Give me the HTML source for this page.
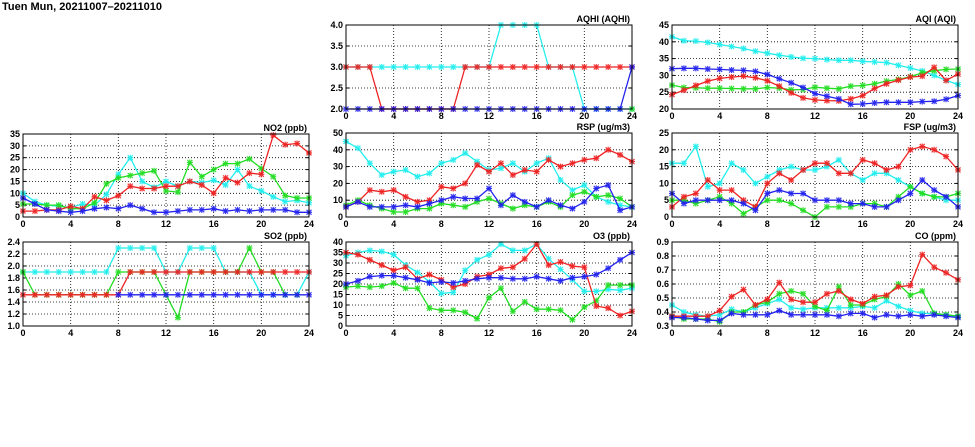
<!DOCTYPE html>
<html><head><meta charset="utf-8"><style>
body{margin:0;background:#fff;width:975px;height:447px;overflow:hidden}
svg{display:block}
text{font-family:"Liberation Sans",sans-serif;font-size:9px;font-weight:bold;fill:#000}
</style></head><body>
<svg id="s" width="975" height="447" xmlns="http://www.w3.org/2000/svg">
<text x="2" y="10" style="font-size:11px">Tuen Mun, 20211007–20211010</text>
</svg>
<script>
const S=document.getElementById('s');
let h='';
const C={c:'#22eeee',g:'#22dd22',r:'#ee2222',b:'#2222ee'};
function panel(x0,y0,x1,y1,ymin,ymax,step,dec,title,series){
  const sx=t=>x0+(x1-x0)*t/24, sy=v=>y1-(y1-y0)*(v-ymin)/(ymax-ymin);
  for(let v=ymin;v<=ymax+1e-9;v+=step){const y=sy(v).toFixed(1);
    if(v>ymin+1e-9&&v<ymax-1e-9)h+=`<line x1="${x0}" y1="${y}" x2="${x1}" y2="${y}" stroke="#000" stroke-width="0.8" stroke-dasharray="1,2"/>`;
    h+=`<line x1="${x0}" y1="${y}" x2="${x0+3}" y2="${y}" stroke="#000"/><line x1="${x1-3}" y1="${y}" x2="${x1}" y2="${y}" stroke="#000"/>`;
    h+=`<text x="${x0-3}" y="${+y+3}" text-anchor="end">${v.toFixed(dec)}</text>`;}
  for(let t=0;t<=24;t+=4){const x=sx(t).toFixed(1);
    if(t>0&&t<24)h+=`<line x1="${x}" y1="${y0}" x2="${x}" y2="${y1}" stroke="#000" stroke-width="0.8" stroke-dasharray="1,2"/>`;
    h+=`<text x="${x}" y="${y1+10}" text-anchor="middle">${t}</text>`;}
  h+=`<text x="${x1-2}" y="${y0-3}" text-anchor="end">${title}</text>`;
  for(const [k,d] of series){let p=[];
    d.forEach((v,i)=>{if(v!=null)p.push(sx(i).toFixed(1)+','+sy(v).toFixed(1));});
    h+=`<polyline points="${p.join(' ')}" fill="none" stroke="${C[k]}" stroke-width="1.3"/>`;
    d.forEach((v,i)=>{if(v==null)return;const x=sx(i),y=sy(v);
      h+=`<path d="M${x-2.5},${y-2.5}L${x+2.5},${y+2.5}M${x-2.5},${y+2.5}L${x+2.5},${y-2.5}M${x-3},${y}H${x+3}M${x},${y-3}V${y+3}" stroke="${C[k]}" stroke-width="1.2" opacity="0.9"/>`;});}
  h+=`<rect x="${x0}" y="${y0}" width="${x1-x0}" height="${y1-y0}" fill="none" stroke="#000" stroke-width="1"/>`;
}
const r=(v,n)=>Array(n).fill(v);
panel(346,25,632,109,2,4,0.5,1,'AQHI (AQHI)',[
['c',[...r(3,13),4,4,4,4,3,3,3,2,2,2,2,2]],
['g',[...r(null,24),2]],
['r',[3,3,3,...r(2,7),...r(3,15)]],
['b',[...r(2,24),3]]]);
panel(672,25,958,109,20,45,5,0,'AQI (AQI)',[
['c',[41.5,40.3,40.2,39.8,39.2,38.6,38,37.2,36.6,36,35.5,35.1,35,34.7,34.5,34.5,34.2,34,33.8,33,32.2,31.3,30,28.5,27.3]],
['g',[27.1,26.4,26.3,26.2,26.2,26.1,26,26,26.4,26.2,25.7,25.8,26.5,26.2,26,26.8,27,27.5,28.3,28.8,29.6,30.8,31.4,31.8,31.9]],
['r',[24.3,25.6,27,28.3,29.1,29.5,29.8,29.3,28.4,26.8,24.8,23.3,22.7,22.5,22.4,23,24,26.1,27.5,28.6,29.5,29.8,32.4,28.5,30.4]],
['b',[32,32.1,32.1,31.9,31.8,31.6,31.5,31.2,30.3,29,27.8,26.4,24.6,23.8,23,21.4,21.5,21.8,22,22,22,22.2,22.3,22.9,24]]]);
panel(23,134,309,217,0,35,5,0,'NO2 (ppb)',[
['c',[10,6.5,5,4.5,4,5.5,5,9.5,18,25,15,12.5,15,13,15,14.5,15.5,13.5,20,13,11,8.5,6.5,7,6]],
['g',[5.5,5.5,5,5,3.5,3.5,6,14,16.5,17.5,18.5,19.5,11,10.5,23,17,20,22.5,22.5,24.5,20.5,17,9,8,8]],
['r',[2.5,2.5,3,3,4.5,3.5,8.5,7,9,13,12,12,13,13,15,13.5,10,16.5,14.5,18.5,18,34.5,30.5,31,27]],
['b',[8,5.5,3,2.5,2,2.5,3.5,4,3.5,5,3.5,2,2,2.5,3,3,3.5,2.5,3,2.5,3,3,3,2,2]]]);
panel(346,133,632,217,0,50,10,0,'RSP (ug/m3)',[
['c',[45,41,32,25,27,28,24,26,32,34,38,33,28,29,32,27,32,35,22,16,19,12,9,7,6]],
['g',[7,10,7,5,3,3,5,5,8,7,6,9,11,8,5,7,6,9,6,13,15,12,13,11,6]],
['r',[6,9,16,15,16,12,9,10,18,17,20,31,27,32,25,28,27,34,30,32,34,35,40,37,33]],
['b',[6,9,6,6,6,7,6,8,10,12,11,11,17,7,13,9,6,10,7,5,9,17,19,4,6]]]);
panel(672,133,958,217,0,25,5,0,'FSP (ug/m3)',[
['c',[16,16,21,9,10,16,14,10,12,14,15,14,14,15,17,13,11,13,13,11,9,7,6,5,5]],
['g',[5,5,4,5,6,4,1,3,5,5,4,2,0,3,3,3,4,4,3,6,9,7,6,6,7]],
['r',[3,6,7,11,8,8,5,3,10,13,11,14,16,16,13,13,17,16,14,15,20,21,20,18,14]],
['b',[7,4,5,5,5,5,4,2,7,8,7,7,5,5,5,4,4,3,3,5,7,11,8,6,3]]]);
panel(23,242,309,326,1.0,2.4,0.2,1,'SO2 (ppb)',[
['c',[...r(1.9,8),2.3,2.3,2.3,2.3,1.9,1.9,2.3,2.3,2.3,1.9,1.9,1.9,1.52,1.52,1.52,1.52,1.9]],
['g',[1.9,...r(1.52,7),1.9,1.9,1.9,1.9,1.52,1.14,1.9,1.9,1.9,1.9,1.9,2.3,1.9,1.9,1.52,1.52,null]],
['r',[...r(1.52,9),...r(1.9,16)]],
['b',[...r(null,8),...r(1.52,17)]]]);
panel(346,242,632,326,0,40,5,0,'O3 (ppb)',[
['c',[33.5,35,36,35.5,34,29,25.5,21,15.5,16,26.5,31.5,34,39,36,36,39,32,27,22,16.5,16.5,17.5,17,18]],
['g',[18.5,19,18.5,19,20.5,18,18,8.5,7.5,7.5,6.5,3.5,13.5,18,7,11.5,8,8,7.5,3,9,12,19.5,19.5,19.5]],
['r',[35,34,31.5,29,26.5,28,22.5,24.5,22,18.5,20,23.5,24.5,27.5,28,32,39,29,30.5,28.5,28,9.5,8.5,5,7]],
['b',[20,21.5,23.5,24,24,23,22,20.5,21,20.5,21.5,22.5,23,23,22.5,22.5,23.5,22.5,21.5,23,23.5,24.5,27.5,31.5,35]]]);
panel(672,242,958,326,0.3,0.9,0.1,1,'CO (ppm)',[
['c',[.45,.40,.38,.37,.38,.42,.40,.43,.46,.49,.43,.42,.43,.43,.43,.43,.44,.43,.48,.44,.41,.39,.39,.38,.37]],
['g',[.37,.35,.35,.35,.33,.40,.40,.45,.47,.53,.55,.53,.44,.41,.58,.45,.45,.49,.51,.60,.52,.55,.39,.38,.37]],
['r',[.37,.37,.37,.37,.41,.51,.56,.45,.49,.61,.49,.47,.47,.53,.55,.49,.46,.51,.52,.58,.59,.81,.72,.68,.63]],
['b',[.36,.36,.35,.34,.34,.39,.38,.38,.38,.41,.38,.38,.38,.38,.37,.39,.39,.36,.38,.37,.38,.37,.38,.37,.36]]]);
S.insertAdjacentHTML('beforeend',h);
</script>
</body></html>
